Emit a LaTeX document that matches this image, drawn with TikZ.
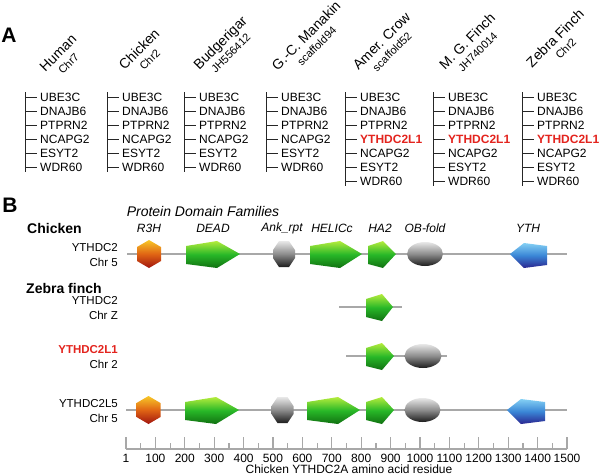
\documentclass[tikz,border=0pt]{standalone}
\usepackage{fontspec}
\setmainfont{Liberation Sans}
\usetikzlibrary{positioning}
\definecolor{ythred}{HTML}{E3241E}
\definecolor{bargray}{HTML}{A8A8A8}
\definecolor{grnTop}{HTML}{B4EC3C}
\definecolor{grnMid}{HTML}{28B828}
\definecolor{grnBot}{HTML}{117011}
\definecolor{redTop}{HTML}{F8C828}
\definecolor{redMid}{HTML}{E06414}
\definecolor{redBot}{HTML}{A0140F}
\definecolor{gryTop}{HTML}{E8E8E8}
\definecolor{gryMid}{HTML}{8C8C8C}
\definecolor{gryBot}{HTML}{1C1C1C}
\definecolor{bluTop}{HTML}{84D0F4}
\definecolor{bluMid}{HTML}{3A86D6}
\definecolor{bluBot}{HTML}{2A2590}

\newcommand{\newg}[1]{\textcolor{ythred}{\bfseries #1}}
\newcommand{\subfont}{\fontsize{11}{14}\selectfont}
% domain glyphs (x values, then row y)
\newcommand{\rthree}[2]{\shade[r3h] (#1,#2-14) -- (#1+12,#2-7) -- (#1+12,#2+7) -- (#1,#2+14) -- (#1-12,#2+7) -- (#1-12,#2-7) -- cycle;}
\newcommand{\ankrep}[2]{\shade[ankr] (#1-5,#2-13) -- (#1+5,#2-13) -- (#1+11,#2-4) -- (#1+11,#2+4) -- (#1+5,#2+13) -- (#1-5,#2+13) -- (#1-11,#2+4) -- (#1-11,#2-4) -- cycle;}
\newcommand{\helix}[4]{\shade[helic] (#1,#4-8) -- (#2,#4-13) -- (#3,#4) -- (#2,#4+14) -- (#1,#4+10) -- cycle;}
\newcommand{\obfold}[3]{\shade[ob] (#1,#3) ellipse [x radius=#2, y radius=12];}
\newcommand{\ythdom}[3]{\shade[yth] (#1,#3) -- (#1+14,#3-11) -- (#2,#3-8) -- (#2,#3+11) -- (#1+14,#3+14) -- cycle;}

\begin{document}
\begin{tikzpicture}[x=1pt, y=-1pt,
    every node/.style={inner sep=0pt},
    panel/.style={font=\fontsize{21}{24}\selectfont\bfseries},
    species/.style={rotate=45, align=center, font=\fontsize{14}{14}\selectfont},
    gene/.style={anchor=west, font=\fontsize{12}{14}\selectfont},
    genebar/.style={draw=black!85, line width=0.8pt},
    famtitle/.style={font=\fontsize{14}{16}\selectfont\itshape},
    orgname/.style={anchor=west, font=\fontsize{14}{16}\selectfont\bfseries},
    domlbl/.style={font=\fontsize{12}{14}\selectfont\itshape},
    rowlbl/.style={anchor=east, font=\fontsize{11.5}{14}\selectfont},
    backbone/.style={draw=bargray, line width=2pt},
    r3h/.style={top color=redTop, bottom color=redBot, middle color=redMid},
    helic/.style={top color=grnTop, bottom color=grnBot, middle color=grnMid},
    ankr/.style={top color=gryTop, bottom color=gryBot, middle color=gryMid},
    ob/.style={top color=gryTop, bottom color=gryBot, middle color=gryMid},
    yth/.style={top color=bluTop, bottom color=bluBot, middle color=bluMid},
    axisline/.style={draw=bargray, line width=2.6pt},
    axtick/.style={draw=bargray, line width=1.2pt},
    axnum/.style={font=\fontsize{12}{14}\selectfont}]

  \useasboundingbox (0,0) rectangle (600,475);

  % ---- panel A: synteny ----
  \node[panel] (labA) at (9,35) {A};
  \foreach \cx/\hx/\hy/\sp/\sub/\id in {25/63/58/Human/Chr7/hum,
      107/144/54/Chicken/Chr2/chk, 184/225/47.5/Budgerigar/JH556412/bud,
      266/311/40.5/{G.-C. Manakin}/scaffold94/gcm} {
    \node[species] (\id) at (\hx,\hy) {\sp\\{\subfont \sub}};
    \draw[genebar] (\cx,92) -- (\cx,172);
    \foreach \g [count=\r from 0] in {UBE3C,DNAJB6,PTPRN2,NCAPG2,ESYT2,WDR60} {
      \node[gene] (\id\r) at (\cx+15,97+14.1*\r) {\g};
      \draw[genebar] (\cx,97+14.1*\r) -- ([xshift=-3pt]\id\r.west);
    }
  }
  \foreach \cx/\hx/\hy/\sp/\sub/\id in {345/386.5/46/{Amer. Crow}/scaffold52/crw,
      433/472/46/{M. G. Finch}/JH740014/mgf, 522/560/43/{Zebra Finch}/Chr2/zbf} {
    \node[species] (\id) at (\hx,\hy) {\sp\\{\subfont \sub}};
    \draw[genebar] (\cx,92) -- (\cx,186);
    \foreach \g [count=\r from 0] in {UBE3C,DNAJB6,PTPRN2,{\newg{YTHDC2L1}},NCAPG2,ESYT2,WDR60} {
      \node[gene] (\id\r) at (\cx+15,97+14.1*\r) {\g};
      \draw[genebar] (\cx,97+14.1*\r) -- ([xshift=-3pt]\id\r.west);
    }
  }

  % ---- panel B: domain architecture ----
  \node[panel] (labB) at (10,205) {B};
  \node[famtitle] (fam) at (203,211) {Protein Domain Families};
  \node[orgname] (orgChk) at (27,228) {Chicken};
  \node[orgname] (orgZf) at (26,288) {Zebra finch};
  \foreach \lx/\lt/\id in {149/R3H/dR3H, 213/DEAD/dDEAD, 282/Ank\_rpt/dAnk,
      332/HELICc/dHel, 380/HA2/dHA2, 425/OB-fold/dOB, 528/YTH/dYTH}
    \node[domlbl] (\id) at (\lx,228) {\lt};

  \foreach \ry/\gn/\ch/\id in {254/YTHDC2/Chr 5/pChk, 307/YTHDC2/Chr Z/pZf,
      356/{\newg{YTHDC2L1}}/Chr 2/pZfA, 410/YTHDC2L5/Chr 5/pZfB} {
    \node[rowlbl] (\id) at (118,\ry-6.5) {\gn};
    \node[rowlbl] (\id-chr) at (118,\ry+8) {\ch};
  }

  % chicken YTHDC2
  \draw[backbone] (127,254) -- (567,254);
  \rthree{149}{254}
  \helix{186}{217}{240}{254}
  \ankrep{284}{254}
  \helix{310}{340}{362}{254}
  \helix{368}{383}{396}{254}
  \obfold{425}{18}{254}
  \ythdom{510}{547}{254}
  % zebra finch YTHDC2
  \draw[backbone] (339,307) -- (402,307);
  \helix{366}{382}{393}{307}
  % zebra finch YTHDC2L1
  \draw[backbone] (346,356) -- (447,356);
  \helix{366}{382}{394}{356}
  \obfold{423}{18.5}{356}
  % zebra finch YTHDC2L5
  \draw[backbone] (126,410) -- (567,410);
  \rthree{148.5}{410}
  \helix{185}{216}{239}{410}
  \ankrep{282.5}{410}
  \helix{307}{338}{360}{410}
  \helix{366}{382}{394}{410}
  \obfold{422.5}{18}{410}
  \ythdom{507}{545}{410}

  % residue axis
  \draw[axisline] (126,449) -- (567,449);
  \foreach \k in {0,...,30} {
    \pgfmathsetmacro\th{mod(\k,2)==0 ? 12 : 6}
    \draw[axtick] (126+14.7*\k,449) -- ++(0,-\th);
  }
  \foreach \v [count=\k from 0] in {1,100,200,300,400,500,600,700,800,900,1000,1100,1200,1300,1400,1500}
    \node[axnum] (n\k) at (126+29.4*\k,458) {\v};
  \node[axnum] (axtitle) at (349,469) {Chicken YTHDC2A amino acid residue};
\end{tikzpicture}
\end{document}
